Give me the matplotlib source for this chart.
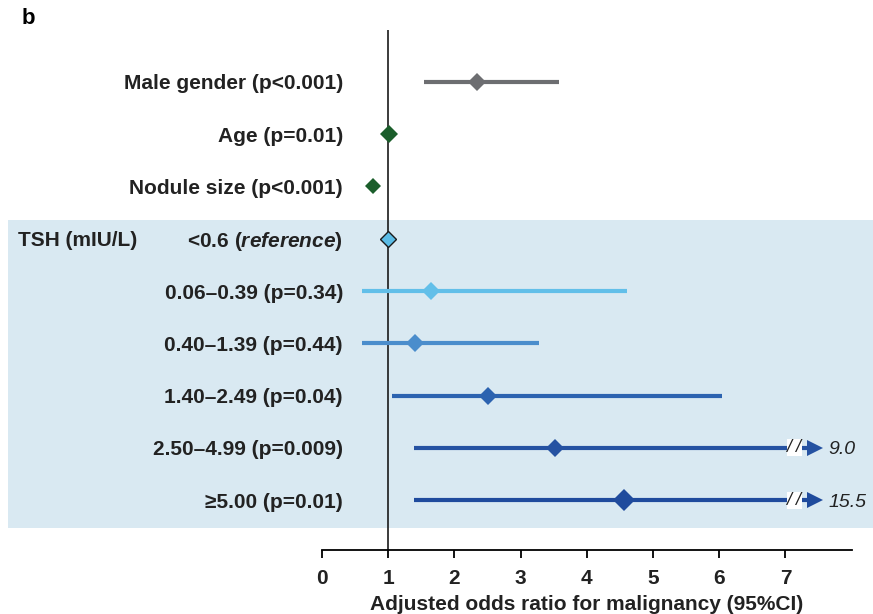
import numpy as np
import matplotlib.pyplot as plt
from matplotlib import rcParams
rcParams['font.family'] = 'sans-serif'
rcParams['font.sans-serif'] = ['Liberation Sans', 'DejaVu Sans']
rcParams['mathtext.fontset'] = 'custom'
rcParams['mathtext.rm'] = 'Liberation Sans:bold'
rcParams['mathtext.bfit'] = 'Liberation Sans:bold:italic'

labels = ['Male gender (p<0.001)', 'Age (p=0.01)', 'Nodule size (p<0.001)',
          '<0.6 ($\\mathbfit{reference}$)', '0.06\u20130.39 (p=0.34)', '0.40\u20131.39 (p=0.44)',
          '1.40\u20132.49 (p=0.04)', '2.50\u20134.99 (p=0.009)', '\u22655.00 (p=0.01)']
odds = [2.34, 1.01, 0.77, 1.0, 1.65, 1.40, 2.51, 3.52, 4.56]
lower = [1.54, 1.01, 0.77, 1.0, 0.60, 0.60, 1.06, 1.39, 1.39]
upper = [3.58, 1.01, 0.77, 1.0, 4.61, 3.28, 6.04, 9.0, 15.5]
colors = ['#6d6e71', '#1b5e2b', '#1b5e2b', '#5bbce6', '#62bfe9', '#4a8dcc',
          '#2c63b0', '#2552a2', '#1f4b9d']
msize = [9, 9, 8, 8, 9, 9, 9, 9, 11]
xticks = [0, 1, 2, 3, 4, 5, 6, 7]
xmax_shown = 7.45

fig = plt.figure(figsize=(8.73, 6.14), dpi=100)
ax = fig.add_axes([0, 64 / 614, 1, 520 / 614])
ax.set_xlim(-322 / 66.2, (873 - 322) / 66.2)
ax.set_ylim(-8.95, 0.99)

# shaded TSH block
ax.axhspan(-8.53, -2.64, xmin=8 / 873, xmax=1, color='#d9e9f2', zorder=0, lw=0)
ax.axvline(1, color='#1a1a1a', lw=1.2, zorder=2)

y = -np.arange(len(labels))
for i in range(len(labels)):
    c = colors[i]
    hi = min(upper[i], xmax_shown - 0.05)
    if upper[i] > lower[i]:
        ax.plot([lower[i], hi], [y[i], y[i]], color=c, lw=3, solid_capstyle='butt', zorder=3)
    if upper[i] > 8:
        ax.plot(xmax_shown, y[i], marker='>', color=c, ms=11, mew=0, zorder=4)
        ax.text(7.13, y[i], '/ /', ha='center', va='center', fontsize=13, style='italic',
                color='#222222', zorder=5,
                bbox=dict(boxstyle='square,pad=0.0', fc='white', ec='none'))
        ax.text(7.65, y[i], '%.1f' % upper[i], ha='left', va='center_baseline', fontsize=14,
                style='italic', color='#222222')
    if i == 3:
        ax.plot(odds[i], y[i], marker='D', color=c, mec='#1a1a1a', mew=1, ms=msize[i], zorder=6)
    else:
        ax.plot(odds[i], y[i], marker='D', color=c, mew=0, ms=msize[i], zorder=6)
    ax.text(343 / 873, y[i], labels[i], transform=ax.get_yaxis_transform(), ha='right',
            va='center_baseline', fontsize=15, fontweight='bold', color='#222222')

ax.text(18 / 873, y[3], 'TSH (mIU/L)', transform=ax.get_yaxis_transform(), ha='left',
        va='center_baseline', fontsize=15, fontweight='bold', color='#222222')

for s in ['top', 'right', 'left']:
    ax.spines[s].set_visible(False)
ax.spines['bottom'].set_bounds(0, 8.0)
ax.spines['bottom'].set_linewidth(1.3)
ax.set_yticks([])
ax.set_xticks(xticks)
ax.set_xticklabels([str(t) for t in xticks], fontsize=15, fontweight='bold', color='#222222')
ax.tick_params(axis='x', length=6, width=1.3, pad=8)
ax.set_xlabel('Adjusted odds ratio for malignancy (95%CI)', fontsize=15, fontweight='bold',
              color='#222222')
ax.xaxis.set_label_coords(587 / 873, -45 / 520)
ax.patch.set_visible(False)

fig.text(22 / 873, 1 - 19 / 614, 'b', fontsize=16, fontweight='bold', va='center', ha='left')

plt.savefig('out.png', dpi=100)
